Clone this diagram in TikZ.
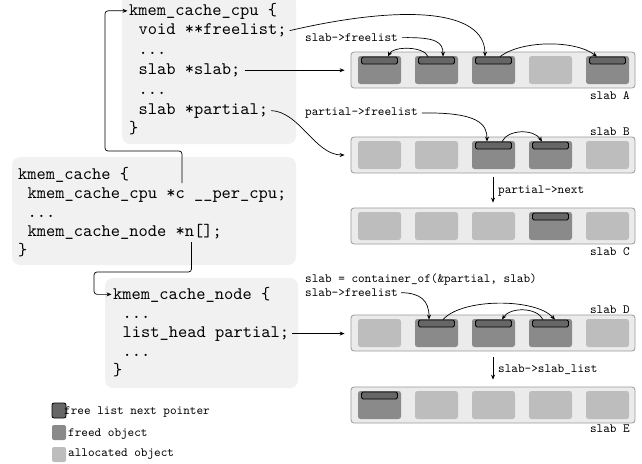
\documentclass[tikz,border=0pt]{standalone}
\usepackage{fontspec}
\setmonofont{lmmono10-regular}[Extension=.otf]
\usetikzlibrary{arrows.meta}
\definecolor{codebg}{HTML}{F1F1F1}
\definecolor{slabbg}{HTML}{EBEBEB}
\definecolor{slabfr}{HTML}{9A9A9A}
\definecolor{alloccol}{HTML}{BDBDBD}
\definecolor{freedcol}{HTML}{8A8A8A}
\definecolor{barcol}{HTML}{666666}
\newcommand\bigtt{\ttfamily\fontsize{17.6pt}{19.8pt}\selectfont}
\newcommand\smalltt{\ttfamily\fontsize{12.6pt}{14pt}\selectfont}
\tikzset{
  code/.style={font=\bigtt, anchor=base west, inner sep=0pt},
  lbl/.style={font=\smalltt, anchor=base west, inner sep=0pt},
  codebox/.style={fill=codebg, rounded corners=8pt, inner sep=0pt},
  slabbox/.style={fill=slabbg, draw=slabfr, line width=0.8pt, rounded corners=3pt,
    minimum width=284pt, minimum height=36pt, inner sep=0pt},
  alloc/.style={fill=alloccol, rounded corners=2.5pt, minimum width=43pt,
    minimum height=28pt, inner sep=0pt},
  freed/.style={alloc, fill=freedcol},
  fbar/.style={fill=barcol, draw=black, line width=0.8pt, rounded corners=1.5pt,
    minimum width=36pt, minimum height=7pt, inner sep=0pt},
  keybox/.style={minimum width=14pt, minimum height=15pt, rounded corners=2pt},
  arr/.style={-{Stealth[length=5pt,width=4pt]}, line width=0.7pt},
}
\newcommand\slabrow[3]{%
  \node[slabbox] (s#1) at (493,{#2+18}) {};
  \foreach \ty [count=\i] in {#3} {%
    \if\ty f
      \node[freed] (s#1\i) at ({379.5+57*(\i-1)},{#2+18}) {};
      \node[fbar] (b#1\i) at ({379.5+57*(\i-1)},{#2+8.5}) {};
    \else
      \node[alloc] (s#1\i) at ({379.5+57*(\i-1)},{#2+18}) {};
    \fi
  }%
}
\begin{document}
\begin{tikzpicture}[x=1pt,y=-1pt]
\useasboundingbox (0,0) rectangle (642,463);
% code boxes
\node[codebox, minimum width=174pt, minimum height=150pt] (cpubox) at (209,69) {};
\node[codebox, minimum width=284pt, minimum height=108pt] (cachebox) at (154,211) {};
\node[codebox, minimum width=193pt, minimum height=110pt] (nodebox) at (201.5,333) {};
% kmem_cache_cpu
\node[code] (c1) at (129,15) {kmem\_cache\_cpu \{};
\node[code] (c2) at (138.5,34.8) {void **freelist;};
\node[code] (c3) at (138.5,54.6) {...};
\node[code] (c4) at (138.5,74.4) {slab *slab;};
\node[code] (c5) at (138.5,94.2) {...};
\node[code] (c6) at (138.5,114) {slab *partial;};
\node[code] (c7) at (129,133.8) {\}};
% kmem_cache
\node[code] (k1) at (18,179) {kmem\_cache \{};
\node[code] (k2) at (27.5,198) {kmem\_cache\_cpu *c \_\_per\_cpu;};
\node[code] (k3) at (27.5,217) {...};
\node[code] (k4) at (27.5,236) {kmem\_cache\_node *n[];};
\node[code] (k5) at (18,255) {\}};
% kmem_cache_node
\node[code] (n1) at (113,299) {kmem\_cache\_node \{};
\node[code] (n2) at (122.5,318) {...};
\node[code] (n3) at (122.5,337) {list\_head partial;};
\node[code] (n4) at (122.5,356) {...};
\node[code] (n5) at (113,375) {\}};
% slabs
\slabrow{A}{52}{f,f,f,a,f}
\slabrow{B}{137}{a,a,f,f,a}
\slabrow{C}{208}{a,a,a,f,a}
\slabrow{D}{315}{a,f,f,f,a}
\slabrow{E}{387}{f,a,a,a,a}
\node[lbl, anchor=base east] (lA) at (630,99.5) {slab A};
\node[lbl, anchor=base east] (lB) at (630,135.5) {slab B};
\node[lbl, anchor=base east] (lC) at (630,255.5) {slab C};
\node[lbl, anchor=base east] (lD) at (630,313.5) {slab D};
\node[lbl, anchor=base east] (lE) at (630,432.5) {slab E};
% labels
\node[lbl] (fA) at (305,41.5) {slab->freelist};
\node[lbl] (pf) at (305,115.5) {partial->freelist};
\node[lbl] (pn) at (498,193.5) {partial->next};
\node[lbl] (co) at (305,282.5) {slab = container\_of(\&partial, slab)};
\node[lbl] (fD) at (305,296.5) {slab->freelist};
\node[lbl] (sl) at (498,372.5) {slab->slab\_list};
% pointer connectors on the left
\coordinate (cptr) at (182,183);
\coordinate (nptr) at (191.5,242);
\draw[arr, rounded corners=3pt] (cptr) |- (105,151) |- ([xshift=-1.5pt]c1.west);
\draw[arr, rounded corners=3pt] (nptr) |- (94,272) |- ([xshift=-1.5pt]n1.west);
% slab A
\draw[arr] ([xshift=3pt]c2.east) .. controls (400,5) and (485,8) .. ([xshift=-8.5pt]bA3.north);
\draw[arr] ([xshift=4pt]fA.east) .. controls (436,37) and (443,42) .. ([xshift=6.5pt]bA2.north);
\draw[arr] ([xshift=-8.5pt]bA2.north) .. controls (424,46) and (393,46) .. ([xshift=8.5pt]bA1.north);
\draw[arr] ([xshift=6.5pt]bA3.north) .. controls (522,40) and (575,40) .. ([xshift=-10.5pt]bA5.north);
\draw[arr, shorten <=4pt, shorten >=6pt] (c4.east) -- (c4.east -| sA.west);
% slab B, C
\draw[arr] ([xshift=3pt]c6.east) .. controls (300,112) and (315,155) .. ([xshift=-6pt]sB.west);
\draw[arr] ([xshift=4pt]pf.east) .. controls (480,112) and (487,125) .. ([xshift=-6.5pt]bB3.north);
\draw[arr] ([xshift=8.5pt]bB3.north) .. controls (508,129) and (534,129) .. ([xshift=-8.5pt]bB4.north);
\draw[arr, shorten <=4pt, shorten >=5pt] (sB.south) -- (sC.north);
% slab D, E
\draw[arr] ([xshift=3pt]fD.east) .. controls (420,293) and (429,300) .. ([xshift=-7.5pt]bD2.north);
\draw[arr] ([xshift=6.5pt]bD2.north) .. controls (462,298) and (535,298) .. ([xshift=4.5pt]bD4.north);
\draw[arr] ([xshift=-7.5pt]bD4.north) .. controls (537,307) and (510,307) .. ([xshift=8.5pt]bD3.north);
\draw[arr, shorten <=3pt, shorten >=6pt] (n3.east) -- (n3.east -| sD.west);
\draw[arr, shorten <=6pt, shorten >=7pt] (sD.south) -- (sE.north);
% legend
\node[fbar, keybox] (kbar) at (59,410.5) {};
\node[lbl] (tbar) at (64,414.5) {free list next pointer};
\node[freed, keybox] (kfr) at (59,432.5) {};
\node[lbl] (tfr) at (68,436.5) {freed object};
\node[alloc, keybox] (kal) at (59,454.5) {};
\node[lbl] (tal) at (68,456.5) {allocated object};
\end{tikzpicture}
\end{document}
